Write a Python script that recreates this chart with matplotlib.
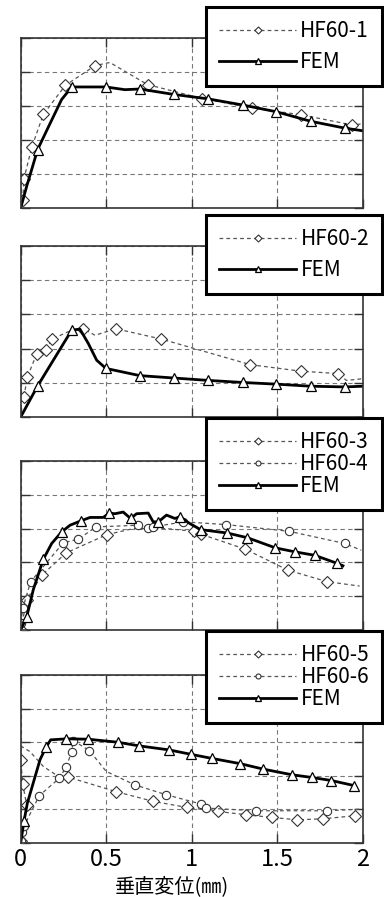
import matplotlib
matplotlib.use("Agg")
import matplotlib.pyplot as plt

plt.rcParams['font.family'] = ['Noto Sans CJK JP', 'DejaVu Sans']

# ---- panel 1 ----
hf1_x = [0.012, 0.019, 0.064, 0.132, 0.261, 0.436, 0.521, 0.741, 1.060, 1.354, 1.640, 1.938, 2.0]
hf1_y = [0.23, 0.86, 1.78, 2.75, 3.61, 4.19, 4.28, 3.63, 3.22, 2.94, 2.74, 2.44, 2.48]
hf1_mark = [0, 1, 2, 3, 4, 5, 7, 8, 9, 10, 11]

fem1_x = [0, 0.035, 0.099, 0.171, 0.239, 0.298, 0.498, 0.609, 0.696, 0.895, 1.095, 1.296, 1.494, 1.695, 1.893, 2.0]
fem1_y = [0, 0.64, 1.72, 2.48, 3.19, 3.56, 3.56, 3.48, 3.50, 3.34, 3.21, 3.03, 2.83, 2.55, 2.35, 2.27]
fem1_mark = [2, 5, 6, 8, 9, 10, 11, 12, 13, 14]

# ---- panel 2 ----
hf2_x = [0.019, 0.039, 0.093, 0.148, 0.185, 0.28, 0.366, 0.434, 0.556, 0.821, 1.342, 1.636, 1.854, 1.903, 2.0]
hf2_y = [0.59, 1.17, 1.84, 1.97, 2.28, 2.50, 2.58, 2.39, 2.58, 2.28, 1.53, 1.34, 1.27, 1.07, 1.12]
hf2_mark = [0, 1, 2, 3, 4, 6, 8, 9, 10, 11, 12]

fem2_x = [0, 0.099, 0.298, 0.346, 0.395, 0.444, 0.498, 0.696, 0.895, 1.095, 1.296, 1.494, 1.695, 1.893, 2.0]
fem2_y = [0, 0.91, 2.54, 2.57, 2.15, 1.66, 1.42, 1.21, 1.14, 1.07, 1.01, 0.96, 0.90, 0.88, 0.90]
fem2_mark = [1, 2, 6, 7, 8, 9, 10, 11, 12, 13]

# ---- panel 3 ----
hf3_x = [0, 0.035, 0.123, 0.265, 0.502, 0.658, 0.852, 1.012, 1.056, 1.313, 1.562, 1.790, 1.98]
hf3_y = [0, 0.89, 1.62, 2.28, 2.82, 3.00, 3.00, 2.92, 2.83, 2.39, 1.77, 1.43, 1.30]
hf3_mark = [0, 1, 2, 3, 4, 7, 8, 9, 10, 11]

hf4_x = [0, 0.012, 0.058, 0.249, 0.337, 0.440, 0.687, 0.745, 0.774, 0.95, 1.198, 1.568, 1.893, 1.99]
hf4_y = [0.20, 0.64, 1.43, 2.58, 2.69, 3.05, 3.10, 3.03, 3.05, 3.20, 3.12, 2.92, 2.56, 2.36]
hf4_mark = list(range(13))

fem3_x = [0, 0.035, 0.074, 0.132, 0.181, 0.239, 0.288, 0.352, 0.405, 0.482, 0.518, 0.551, 0.599,
          0.642, 0.677, 0.745, 0.774, 0.804, 0.852, 0.901, 0.930, 0.988, 1.051, 1.206, 1.325,
          1.488, 1.605, 1.718, 1.850, 1.883]
fem3_y = [0, 0.39, 1.20, 2.09, 2.56, 2.90, 3.10, 3.23, 3.33, 3.33, 3.46, 3.44, 3.49,
          3.30, 3.44, 3.46, 3.20, 3.20, 3.40, 3.30, 3.35, 3.15, 2.97, 2.87, 2.73,
          2.43, 2.31, 2.21, 1.97, 1.90]
fem3_mark = [1, 3, 5, 7, 10, 13, 17, 20, 22, 23, 24, 25, 26, 27, 28]

# ---- panel 4 ----
hf5_x = [0, 0.035, 0.012, 0.0, 0.0, 0.054, 0.132, 0.22, 0.278, 0.556, 0.774, 0.969, 1.150,
         1.319, 1.469, 1.617, 1.767, 1.951, 2.0]
hf5_y = [0.05, 1.12, 1.76, 2.46, 2.89, 2.72, 2.28, 1.98, 1.96, 1.53, 1.24, 1.06, 0.94,
         0.84, 0.76, 0.69, 0.72, 0.81, 0.89]
hf5_mark = [0, 1, 2, 3, 8, 9, 10, 11, 12, 13, 14, 15, 16, 17]

hf6_x = [0, 0.006, 0.019, 0.109, 0.226, 0.265, 0.298, 0.307, 0.401, 0.50, 0.667, 0.848,
         1.053, 1.082, 1.372, 1.792, 2.0]
hf6_y = [0.05, 0.33, 0.50, 1.41, 1.93, 2.26, 2.71, 3.05, 2.75, 2.13, 1.73, 1.44,
         1.16, 1.04, 0.96, 0.96, 1.01]
hf6_mark = [0, 1, 2, 3, 4, 5, 6, 7, 8, 10, 11, 12, 13, 14, 15]

fem4_x = [0, 0.019, 0.039, 0.113, 0.148, 0.175, 0.265, 0.393, 0.566, 0.693, 0.868, 0.994,
          1.115, 1.284, 1.416, 1.586, 1.702, 1.815, 1.947]
fem4_y = [0, 0.64, 1.19, 2.48, 2.85, 3.07, 3.10, 3.09, 3.00, 2.89, 2.77, 2.64,
          2.52, 2.36, 2.20, 2.03, 1.95, 1.86, 1.71]
fem4_mark = [1, 4, 6, 7, 8, 9, 10, 11, 12, 13, 14, 15, 16, 17, 18]

x_ticks = [0, 0.5, 1, 1.5, 2]
x_ticklabels = ["0", "0.5", "1", "1.5", "2"]
x_label = "垂直変位(㎜)"

W, H = 384, 897
exp_style = dict(color='#555555', lw=0.9, ls=(0, (3, 2.5)), mfc='white', mec='#333333', mew=0.8)
fem_style = dict(color='black', lw=2.0, marker='^', ms=7, mfc='white', mec='black', mew=0.9)


def setup_axes(ax, last=False):
    ax.set_xlim(0, 2)
    ax.set_ylim(0, 5)
    ax.set_xticks(x_ticks)
    ax.set_yticks(range(6))
    ax.grid(True, ls=(0, (4, 3)), color='#777777', lw=0.8)
    ax.tick_params(direction='in', length=6.5, width=1, top=True, right=True,
                   labelleft=False, labelbottom=last, color='#333333', pad=3.5)
    for s in ax.spines.values():
        s.set_color('#333333')
        s.set_linewidth(1.2)
    if last:
        ax.set_xticklabels(x_ticklabels, fontsize=17)
        ax.set_xlabel(x_label, fontsize=14.5)
        # label sits a little left of the axes centre in the original
        ax.xaxis.set_label_coords((172 - 20.7) / 342.3, -0.2)


def add_legend(ax, handles, labels, top_px, spacing):
    leg = ax.legend(handles, labels, loc='upper right',
                    bbox_to_anchor=(382 / W, 1 - top_px / H), bbox_transform=fig.transFigure,
                    fancybox=False, framealpha=1, edgecolor='black', fontsize=15,
                    handlelength=3.7, handletextpad=0.2, borderpad=0.62,
                    labelspacing=spacing, markerscale=0.6, borderaxespad=0)
    leg.get_frame().set_linewidth(2.2)
    leg.set_zorder(10)


fig = plt.figure(figsize=(W / 100, H / 100), dpi=100)
boxes = [(38, 208), (246, 417), (461, 630), (675, 843)]
axes = []
for top, bot in boxes:
    axes.append(fig.add_axes([20.7 / W, 1 - bot / H, 342.3 / W, (bot - top) / H]))

# panel 1
ax = axes[0]
setup_axes(ax)
a, = ax.plot(hf1_x, hf1_y, marker='D', ms=6, markevery=hf1_mark, **exp_style)
b, = ax.plot(fem1_x, fem1_y, markevery=fem1_mark, **fem_style)
add_legend(ax, [a, b], ["HF60-1", "FEM"], 7, 0.45)

# panel 2
ax = axes[1]
setup_axes(ax)
a, = ax.plot(hf2_x, hf2_y, marker='D', ms=6, markevery=hf2_mark, **exp_style)
b, = ax.plot(fem2_x, fem2_y, markevery=fem2_mark, **fem_style)
add_legend(ax, [a, b], ["HF60-2", "FEM"], 215, 0.45)

# panel 3
ax = axes[2]
setup_axes(ax)
a, = ax.plot(hf3_x, hf3_y, marker='D', ms=6, markevery=hf3_mark, **exp_style)
c, = ax.plot(hf4_x, hf4_y, marker='o', ms=6, markevery=hf4_mark, **exp_style)
b, = ax.plot(fem3_x, fem3_y, markevery=fem3_mark, **fem_style)
add_legend(ax, [a, c, b], ["HF60-3", "HF60-4", "FEM"], 418, 0.0)

# panel 4
ax = axes[3]
setup_axes(ax, last=True)
a, = ax.plot(hf5_x, hf5_y, marker='D', ms=6, markevery=hf5_mark, **exp_style)
c, = ax.plot(hf6_x, hf6_y, marker='o', ms=6, markevery=hf6_mark, **exp_style)
b, = ax.plot(fem4_x, fem4_y, markevery=fem4_mark, **fem_style)
add_legend(ax, [a, c, b], ["HF60-5", "HF60-6", "FEM"], 631, 0.0)

fig.savefig("out.png", dpi=100)
